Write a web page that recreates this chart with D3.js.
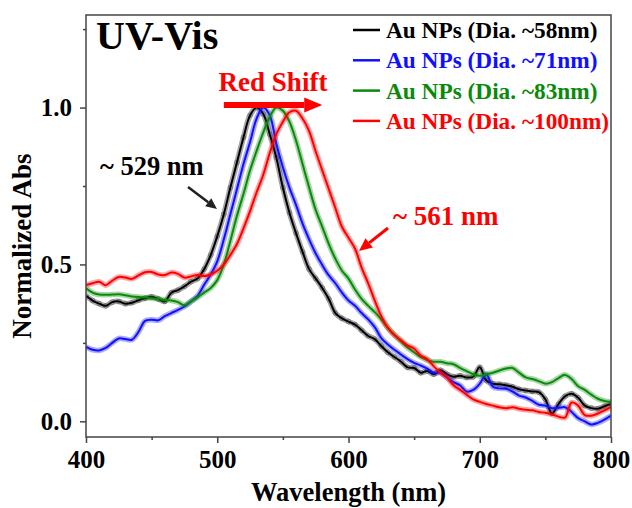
<!DOCTYPE html>
<html>
<head>
<meta charset="utf-8">
<script src="https://cdn.jsdelivr.net/npm/d3@7"></script>
<style>
  body { margin: 0; background: #fff; }
  svg { display: block; }
  text { font-family: "Liberation Serif", "Times New Roman", serif; font-weight: bold; }
</style>
</head>
<body>
<div id="chart"></div>
<script>
// wavelength grid (nm), every 5 nm
const wavelengths = d3.range(400, 801, 5);

const seriesNames = [
  "Au NPs (Dia. ~58nm)",
  "Au NPs (Dia. ~71nm)",
  "Au NPs (Dia. ~83nm)",
  "Au NPs (Dia. ~100nm)"
];
const seriesColors = ["#000000", "#1010ff", "#0a8a0a", "#ff0000"];

// normalized absorbance
const abs58 = [
  0.400, 0.385, 0.375, 0.368, 0.380, 0.382, 0.375, 0.378, 0.386, 0.392,
  0.397, 0.390, 0.382, 0.410, 0.418, 0.430, 0.445, 0.455, 0.485, 0.530,
  0.590, 0.660, 0.745, 0.825, 0.905, 0.975, 1.000, 0.980, 0.915, 0.840,
  0.745, 0.665, 0.600, 0.540, 0.485, 0.455, 0.425, 0.390, 0.345, 0.328,
  0.318, 0.308, 0.290, 0.272, 0.262, 0.240, 0.220, 0.205, 0.190, 0.172,
  0.170, 0.155, 0.160, 0.150, 0.163, 0.150, 0.142, 0.145, 0.140, 0.142,
  0.172, 0.130, 0.120, 0.118, 0.115, 0.110, 0.102, 0.098, 0.095, 0.093,
  0.070, 0.025, 0.055, 0.080, 0.088, 0.075, 0.050, 0.042, 0.040, 0.048,
  0.055
];
const abs71 = [
  0.237, 0.228, 0.226, 0.234, 0.250, 0.264, 0.262, 0.260, 0.285, 0.320,
  0.324, 0.322, 0.335, 0.345, 0.355, 0.366, 0.382, 0.400, 0.435, 0.468,
  0.510, 0.580, 0.660, 0.740, 0.820, 0.890, 0.965, 1.000, 0.975, 0.885,
  0.810, 0.745, 0.690, 0.630, 0.580, 0.535, 0.498, 0.465, 0.440, 0.410,
  0.385, 0.368, 0.345, 0.325, 0.300, 0.265, 0.245, 0.228, 0.213, 0.198,
  0.186, 0.178, 0.168, 0.155, 0.155, 0.140, 0.125, 0.115, 0.095, 0.100,
  0.120, 0.150, 0.110, 0.105, 0.104, 0.095, 0.082, 0.076, 0.065, 0.053,
  0.050, 0.042, 0.043, 0.045, 0.030, 0.010, 0.000, -0.010, -0.005, 0.005,
  0.018
];
const abs83 = [
  0.424, 0.410, 0.404, 0.403, 0.404, 0.405, 0.402, 0.398, 0.396, 0.395,
  0.392, 0.390, 0.387, 0.385, 0.380, 0.370, 0.382, 0.395, 0.410, 0.425,
  0.450, 0.500, 0.575, 0.655, 0.725, 0.800, 0.862, 0.920, 0.970, 1.000,
  0.990, 0.955, 0.895, 0.820, 0.745, 0.674, 0.620, 0.565, 0.518, 0.480,
  0.455, 0.420, 0.390, 0.368, 0.348, 0.325, 0.298, 0.275, 0.255, 0.235,
  0.220, 0.205, 0.195, 0.190, 0.190, 0.185, 0.182, 0.170, 0.160, 0.150,
  0.145, 0.150, 0.155, 0.162, 0.168, 0.170, 0.155, 0.140, 0.135, 0.128,
  0.120, 0.125, 0.138, 0.148, 0.135, 0.112, 0.100, 0.085, 0.072, 0.065,
  0.062
];
const abs100 = [
  0.434, 0.440, 0.445, 0.434, 0.448, 0.460, 0.458, 0.454, 0.465, 0.475,
  0.476, 0.468, 0.466, 0.474, 0.470, 0.458, 0.462, 0.466, 0.463, 0.468,
  0.480, 0.500, 0.530, 0.565, 0.615, 0.670, 0.730, 0.785, 0.855, 0.915,
  0.955, 0.985, 0.990, 0.965, 0.925, 0.860, 0.800, 0.740, 0.680, 0.620,
  0.585, 0.550, 0.490, 0.440, 0.385, 0.335, 0.298, 0.275, 0.258, 0.242,
  0.232, 0.210, 0.198, 0.175, 0.155, 0.140, 0.115, 0.100, 0.085, 0.070,
  0.062, 0.055, 0.050, 0.045, 0.042, 0.045, 0.040, 0.037, 0.035, 0.030,
  0.027, 0.022, 0.015, 0.012, 0.060, 0.050, 0.020, 0.018, 0.025, 0.035,
  0.045
];
const seriesValues = [abs58, abs71, abs83, abs100];

const xTicks = [400, 500, 600, 700, 800];
const xMinor = [450, 550, 650, 750];
const yTicks = [0.0, 0.5, 1.0];
const yMinor = [0.25, 0.75, 1.25];

const W = 632, H = 508;
const m = { left: 86, right: 611, top: 15, bottom: 437 };

const svg = d3.select("#chart").append("svg")
    .attr("width", W)
    .attr("height", H);

const x = d3.scaleLinear().domain([400, 800]).range([m.left, m.right]);
const y = d3.scaleLinear().domain([-0.05, 1.295]).range([m.bottom, m.top]);

svg.append("defs").append("clipPath").attr("id", "clip")
  .append("rect")
    .attr("x", m.left).attr("y", m.top)
    .attr("width", m.right - m.left).attr("height", m.bottom - m.top);

// curves
const line = d3.line()
    .x((d, i) => x(wavelengths[i]))
    .y(d => y(d))
    .curve(d3.curveCatmullRom.alpha(0.5));

const plot = svg.append("g").attr("clip-path", "url(#clip)");

seriesValues.forEach((vals, k) => {
  const g = plot.append("g");
  g.append("path")
      .attr("d", line(vals))
      .attr("fill", "none")
      .attr("stroke", seriesColors[k])
      .attr("stroke-width", 5.5)
      .attr("stroke-opacity", 0.35)
      .attr("stroke-linejoin", "round");
  if (k === 0) {
    g.selectAll("circle")
      .data(vals)
      .enter().append("circle")
        .attr("cx", (d, i) => x(wavelengths[i]))
        .attr("cy", d => y(d))
        .attr("r", 2.3)
        .attr("fill", "none")
        .attr("stroke", "#555")
        .attr("stroke-opacity", 0.6)
        .attr("stroke-width", 1);
  }
  g.append("path")
      .attr("d", line(vals))
      .attr("fill", "none")
      .attr("stroke", seriesColors[k])
      .attr("stroke-width", 2)
      .attr("stroke-linejoin", "round");
});

// frame
svg.append("rect")
    .attr("x", m.left).attr("y", m.top)
    .attr("width", m.right - m.left).attr("height", m.bottom - m.top)
    .attr("fill", "none")
    .attr("stroke", "#444")
    .attr("stroke-width", 1.5);

// axes
svg.append("g")
    .attr("transform", `translate(0,${m.bottom})`)
    .call(d3.axisBottom(x).tickValues(xTicks).tickSize(6).tickPadding(7));
svg.append("g")
    .attr("transform", `translate(0,${m.bottom})`)
    .call(d3.axisBottom(x).tickValues(xMinor).tickSize(3).tickFormat(""));

svg.append("g")
    .attr("transform", `translate(${m.left},0)`)
    .call(d3.axisLeft(y).tickValues(yTicks).tickSize(6).tickPadding(8).tickFormat(d3.format(".1f")));
svg.append("g")
    .attr("transform", `translate(${m.left},0)`)
    .call(d3.axisLeft(y).tickValues(yMinor).tickSize(3).tickFormat(""));

svg.selectAll(".domain").remove();
svg.selectAll(".tick line").attr("stroke", "#444").attr("stroke-width", 1.5);
svg.selectAll(".tick text")
    .attr("fill", "#000")
    .style("font-family", "'Liberation Serif', serif")
    .style("font-weight", "bold")
    .style("font-size", "25px");

// axis titles
svg.append("text")
    .attr("x", (m.left + m.right) / 2)
    .attr("y", 501)
    .attr("text-anchor", "middle")
    .style("font-size", "26.5px")
    .text("Wavelength (nm)");

svg.append("text")
    .attr("transform", `translate(31,${(m.top + m.bottom) / 2 + 20}) rotate(-90)`)
    .attr("text-anchor", "middle")
    .style("font-size", "27px")
    .text("Normalized Abs");

// panel label
svg.append("text")
    .attr("x", 96)
    .attr("y", 49)
    .style("font-size", "40px")
    .text("UV-Vis");

// legend
const legend = svg.append("g");
seriesNames.forEach((name, k) => {
  const ly = 38 + k * 30.3;
  legend.append("line")
      .attr("x1", 353).attr("x2", 380)
      .attr("y1", ly - 8).attr("y2", ly - 8)
      .attr("stroke", seriesColors[k])
      .attr("stroke-width", 2.5);
  legend.append("text")
      .attr("x", 386)
      .attr("y", ly)
      .attr("fill", seriesColors[k])
      .style("font-size", "23.3px")
      .text(name);
});

// annotations
const ann = svg.append("g");
function arrow(x1, y1, x2, y2, color, width, headLen, headW) {
  const a = Math.atan2(y2 - y1, x2 - x1);
  const bx = x2 - headLen * Math.cos(a), by = y2 - headLen * Math.sin(a);
  ann.append("line")
      .attr("x1", x1).attr("y1", y1).attr("x2", bx).attr("y2", by)
      .attr("stroke", color).attr("stroke-width", width);
  const px = -Math.sin(a) * headW / 2, py = Math.cos(a) * headW / 2;
  ann.append("path")
      .attr("d", `M${x2},${y2}L${bx + px},${by + py}L${bx - px},${by - py}Z`)
      .attr("fill", color);
}

ann.append("text")
    .attr("x", 273).attr("y", 91)
    .attr("text-anchor", "middle")
    .attr("fill", "#ff0000")
    .style("font-size", "27px")
    .text("Red Shift");
arrow(x(505), 105, x(580), 105, "#ff0000", 6, 18, 15);

ann.append("text")
    .attr("x", 100).attr("y", 175)
    .style("font-size", "26.5px")
    .text("~ 529 nm");
arrow(188, 187, 217, 209, "#222", 2.5, 11, 10);

ann.append("text")
    .attr("x", 393).attr("y", 225)
    .attr("fill", "#ff0000")
    .style("font-size", "27px")
    .text("~ 561 nm");
arrow(388, 228, 359, 251, "#ff0000", 3, 13, 12);
</script>
</body>
</html>
